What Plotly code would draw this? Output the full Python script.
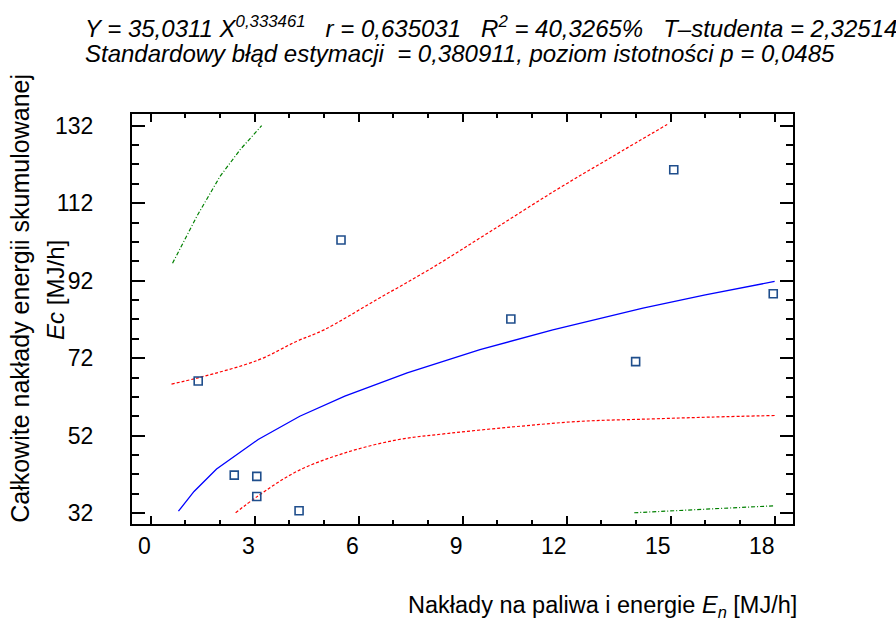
import plotly.graph_objects as go

# Observed data points
obs_x = [1.37, 2.41, 3.06, 3.06, 4.28, 5.49, 10.39, 13.99, 15.09, 17.96]
obs_y = [66.1, 41.8, 41.5, 36.3, 32.6, 102.5, 82.1, 71.1, 120.6, 88.6]

# Fitted curve
fit_x = [0.8, 1.25, 1.9, 3.1, 4.3, 5.6, 7.4, 9.5, 11.6, 14.2, 16.0, 18.0]
fit_y = [32.5, 37.6, 43.4, 51.0, 57.0, 62.2, 68.2, 74.2, 79.3, 84.9, 88.3, 91.8]

# Confidence limits (red dashed)
up_x = [0.6, 1.4, 3.1, 4.2, 5.0, 6.5, 8.1, 9.8, 11.7, 13.3, 14.9]
up_y = [65.3, 67.0, 71.5, 76.3, 79.3, 87.0, 95.2, 104.7, 115.4, 123.9, 132.3]
lo_x = [2.45, 3.06, 4.2, 5.55, 7.1, 8.6, 10.5, 12.4, 14.4, 16.2, 18.0]
lo_y = [32.1, 36.2, 42.7, 47.4, 50.9, 52.6, 54.3, 55.7, 56.3, 56.8, 57.2]

# Prediction limits (green dash-dot)
pu_x = [0.63, 1.33, 2.0, 2.58, 3.2]
pu_y = [96.5, 108.6, 118.9, 125.8, 132.0]
pl_x = [13.95, 17.98]
pl_y = [32.1, 33.9]

x_ticks = [0, 3, 6, 9, 12, 15, 18]
y_ticks = [32, 52, 72, 92, 112, 132]

FONT = "Liberation Sans, Arial, sans-serif"
FS = "\u2007"  # figure space: used to right-align x tick labels to their ticks
x_ticktext = [str(v) + FS * len(str(v)) for v in x_ticks]

fig = go.Figure()
fig.add_trace(go.Scatter(x=pu_x, y=pu_y, mode="lines",
                         line=dict(color="#008000", width=1.2, dash="4px,2px,1px,2px")))
fig.add_trace(go.Scatter(x=pl_x, y=pl_y, mode="lines",
                         line=dict(color="#008000", width=1.2, dash="4px,2px,1px,2px")))
fig.add_trace(go.Scatter(x=up_x, y=up_y, mode="lines", line_shape="spline",
                         line=dict(color="#ff0000", width=1.2, dash="3px,2px")))
fig.add_trace(go.Scatter(x=lo_x, y=lo_y, mode="lines", line_shape="spline",
                         line=dict(color="#ff0000", width=1.2, dash="3px,2px")))
fig.add_trace(go.Scatter(x=fit_x, y=fit_y, mode="lines",
                         line=dict(color="#0000ff", width=1.3)))
fig.add_trace(go.Scatter(x=obs_x, y=obs_y, mode="markers",
                         marker=dict(symbol="square-open", size=8, color="#1f4e8c",
                                     line=dict(width=1.6, color="#1f4e8c"))))

common = dict(showgrid=False, zeroline=False, showline=True, linecolor="black",
              linewidth=2, mirror="ticks", ticks="inside", tickcolor="black",
              tickwidth=1.5, tickfont=dict(family=FONT, size=23, color="black"))

fig.update_xaxes(range=[-0.54, 18.53], tickvals=x_ticks, ticktext=x_ticktext, ticklen=8,
                 minor=dict(dtick=1, tick0=0, ticks="inside", ticklen=4,
                            tickcolor="black", tickwidth=1.5),
                 ticklabelstandoff=0, **common)
fig.update_yaxes(range=[29.2, 135.0], tickvals=y_ticks, ticklen=13,
                 minor=dict(dtick=5, tick0=32, ticks="inside", ticklen=7,
                            tickcolor="black", tickwidth=1.5),
                 ticklabelstandoff=32, **common)

nb = "\u00a0"
title1 = ("<i>Y = 35,0311 X<sup>0,333461</sup>" + nb * 3 + "r = 0,635031" + nb * 3 +
          "R<sup>2</sup> = 40,3265%" + nb * 3 + "T–studenta = 2,32514</i>")
title2 = "<i>Standardowy błąd estymacji" + nb * 2 + "= 0,380911, poziom istotności p = 0,0485</i>"


def px_x(p):
    return (p - 132) / 660


def px_y(p):
    return (524 - p) / 410


fig.update_layout(
    width=896, height=622,
    margin=dict(l=132, r=103, t=114, b=98),
    plot_bgcolor="white", paper_bgcolor="white",
    showlegend=False,
    font=dict(family=FONT, color="black"),
    annotations=[
        dict(text=title1, xref="paper", yref="paper", x=px_x(83), y=px_y(27),
             xanchor="left", yanchor="middle", showarrow=False, align="left",
             font=dict(family=FONT, size=24, color="black")),
        dict(text=title2, xref="paper", yref="paper", x=px_x(83), y=px_y(53),
             xanchor="left", yanchor="middle", showarrow=False, align="left",
             font=dict(family=FONT, size=24, color="black")),
        dict(text="Całkowite nakłady energii skumulowanej",
             xref="paper", yref="paper", x=px_x(20), y=px_y(298),
             xanchor="center", yanchor="middle", textangle=-90, showarrow=False,
             font=dict(family=FONT, size=25, color="black")),
        dict(text="<i>Ec</i> [MJ/h]",
             xref="paper", yref="paper", x=px_x(55), y=px_y(290),
             xanchor="center", yanchor="middle", textangle=-90, showarrow=False,
             font=dict(family=FONT, size=24, color="black")),
        dict(text="Nakłady na paliwa i energie <i>E<sub>n</sub></i> [MJ/h]",
             xref="paper", yref="paper", x=px_x(798), y=px_y(606),
             xanchor="right", yanchor="middle", showarrow=False,
             font=dict(family=FONT, size=23.5, color="black")),
    ],
)

fig.write_html("out.html")
